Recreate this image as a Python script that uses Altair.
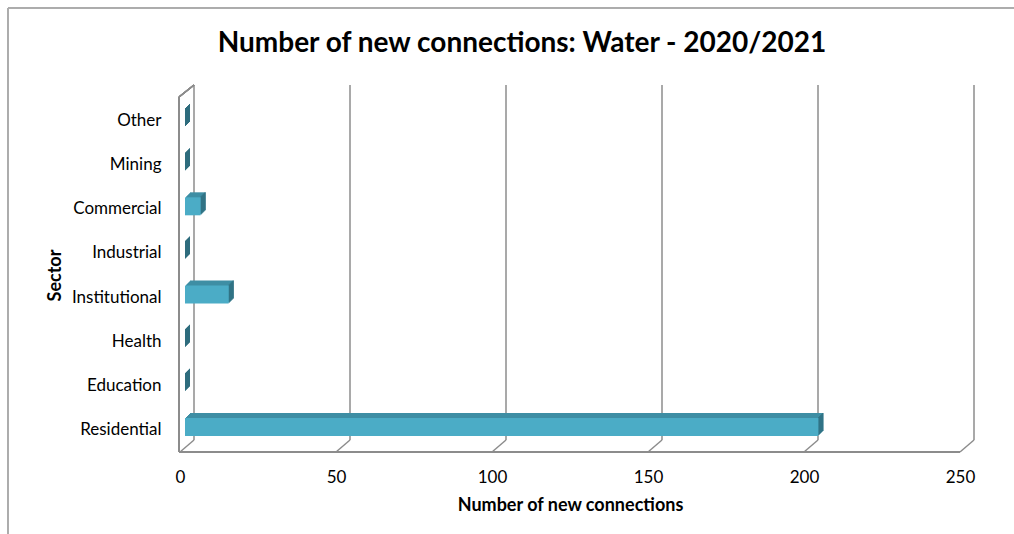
import altair as alt
import pandas as pd

# Sectors listed top to bottom, with the number of new water connections
sectors = ["Other", "Mining", "Commercial", "Industrial", "Institutional",
           "Health", "Education", "Residential"]
connections = [0, 0, 5, 0, 14, 0, 0, 203]
tick_values = [0, 50, 100, 150, 200, 250]
chart_title = ["Number of new connections: Water - 2020/2021"]

bars = pd.DataFrame({"sector": sectors, "value": connections, "zero": 0})
grid = pd.DataFrame({"v": tick_values})
title_df = pd.DataFrame({"t": chart_title})

FONT = "Lato"
FRONT = "#4BACC6"
TOP = "#3E8EA4"
SIDE = "#2E6C7D"
GRID = "#8C8C8C"
DEPTH = 14      # horizontal shift of the back wall (px)
RISE = 12       # vertical shift of the back wall (px)
H = 353         # plot height

xs = alt.Scale(domain=[0, 250], nice=False, zero=True)
ys = alt.Scale(domain=sectors, paddingInner=0, paddingOuter=0)

x_axis = alt.Axis(values=tick_values, title="Number of new connections",
                  domain=False, ticks=False, grid=False, labelPadding=17,
                  labelFlush=False, labelOverlap=False,
                  labelFont=FONT, labelFontSize=17, labelColor="#000000",
                  titleFont=FONT, titleFontSize=18, titleFontWeight="bold",
                  titleColor="#000000", titleY=53, titleBaseline="middle")
y_axis = alt.Axis(title="Sector", domain=False, ticks=False, grid=False,
                  labelPadding=19, labelFont=FONT, labelFontSize=17,
                  labelColor="#000000", titleFont=FONT, titleFontSize=18,
                  titleFontWeight="bold", titleColor="#000000",
                  titleAngle=270, titleX=-125, titleY=176,
                  titleAlign="center", titleBaseline="middle")

# Back gridlines (including the back edge of the left wall and the right wall)
back_lines = alt.Chart(grid).mark_rule(color=GRID, strokeWidth=1.5, xOffset=DEPTH).encode(
    x=alt.X("v:Q", scale=xs, axis=x_axis),
    y=alt.value(-RISE - 2),
    y2=alt.value(H - RISE),
)

# Floor diagonals from front to back at every tick
floor_diag = alt.Chart(grid).mark_rule(color=GRID, strokeWidth=1.5, x2Offset=DEPTH).encode(
    x=alt.X("v:Q", scale=xs),
    x2="v:Q",
    y=alt.value(H),
    y2=alt.value(H - RISE),
)

# Front edge of the floor
floor_front = alt.Chart(grid).mark_rule(color=GRID, strokeWidth=1.5).encode(
    x=alt.value(-1),
    x2=alt.value(780),
    y=alt.value(H),
)

# Left wall: front edge and top edge
wall_front = alt.Chart(grid).mark_rule(color=GRID, strokeWidth=1.5).encode(
    x=alt.value(-1),
    y=alt.value(-2),
    y2=alt.value(H),
)
wall_top = alt.Chart(grid).mark_rule(color=GRID, strokeWidth=1.5).encode(
    x=alt.value(-1),
    x2=alt.value(DEPTH),
    y=alt.value(-2),
    y2=alt.value(-RISE - 2),
)

# Outer chart frame
frame_top = alt.Chart(grid).mark_rule(color="#ABABAB", strokeWidth=1).encode(
    x=alt.value(-172), x2=alt.value(834), y=alt.value(-91))
frame_left = alt.Chart(grid).mark_rule(color="#ABABAB", strokeWidth=1).encode(
    x=alt.value(-172), y=alt.value(-91), y2=alt.value(435))

# Chart heading
heading = alt.Chart(title_df).mark_text(
    font=FONT, fontSize=28, fontWeight="bold", color="#000000",
    align="center", baseline="alphabetic").encode(
    text="t:N", x=alt.value(342), y=alt.value(-47))

BAR_SHIFT = 5
BAR_SIZE = 18
BAR_Y = -3
layers = [frame_top, frame_left, heading, back_lines, floor_diag, floor_front,
          wall_front, wall_top]

# Top face of each bar: stacked copies stepping up and to the right
for k in range(1, 6):
    layers.append(
        alt.Chart(bars).mark_bar(color=TOP, size=BAR_SIZE, xOffset=BAR_SHIFT + k,
                                 x2Offset=BAR_SHIFT + k, yOffset=BAR_Y - k).encode(
            x=alt.X("zero:Q", scale=xs), x2="value:Q",
            y=alt.Y("sector:N", scale=ys, axis=y_axis, sort=sectors),
        )
    )
# Side face of each bar
for k in range(1, 6):
    layers.append(
        alt.Chart(bars).mark_bar(color=SIDE, size=BAR_SIZE, xOffset=BAR_SHIFT + k - 1,
                                 x2Offset=BAR_SHIFT + k, yOffset=BAR_Y - k).encode(
            x=alt.X("value:Q", scale=xs), x2="value:Q",
            y=alt.Y("sector:N", scale=ys, sort=sectors),
        )
    )
# Front face
layers.append(
    alt.Chart(bars).mark_bar(color=FRONT, size=BAR_SIZE, xOffset=BAR_SHIFT,
                             x2Offset=BAR_SHIFT, yOffset=BAR_Y).encode(
        x=alt.X("zero:Q", scale=xs), x2="value:Q",
        y=alt.Y("sector:N", scale=ys, sort=sectors),
    )
)

chart = alt.layer(*layers).properties(
    width=780,
    height=H,
    background="#FFFFFF",
    autosize=alt.AutoSizeParams(type="none"),
    padding={"left": 180, "top": 99, "right": 54, "bottom": 82},
).configure_view(stroke=None)

chart.save("out.html", embed_options={"renderer": "svg", "actions": False})
